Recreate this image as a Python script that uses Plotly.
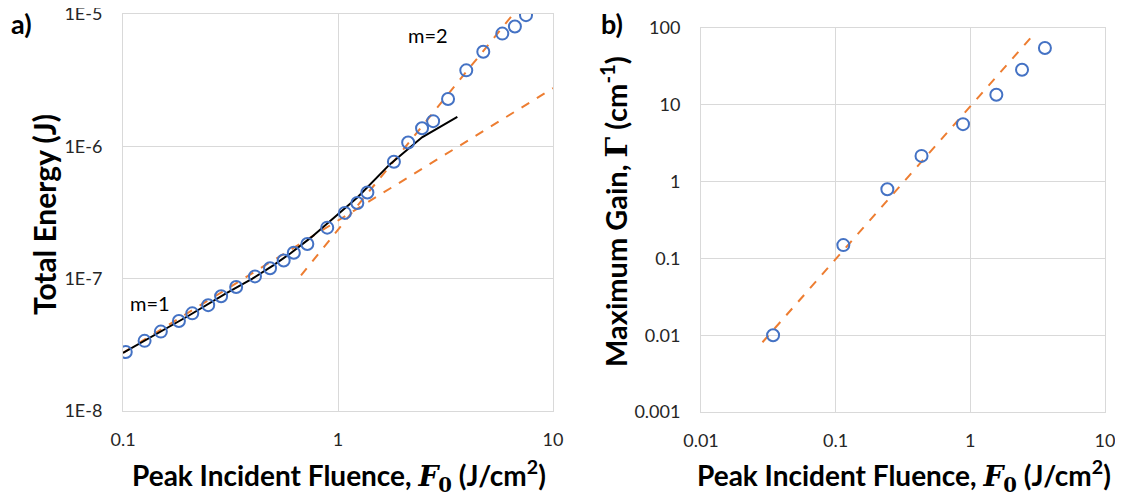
import plotly.graph_objects as go

# ---- Panel a) data ----
a_x = [0.103, 0.126, 0.15, 0.182, 0.21, 0.249, 0.286, 0.336, 0.411, 0.483, 0.559, 0.623, 0.72,
       0.891, 1.076, 1.23, 1.37, 1.82, 2.12, 2.46, 2.77, 3.25, 3.95, 4.74, 5.81, 6.65, 7.49]
a_y = [2.79e-8, 3.39e-8, 3.98e-8, 4.79e-8, 5.47e-8, 6.31e-8, 7.37e-8, 8.66e-8, 1.04e-7, 1.2e-7,
       1.37e-7, 1.57e-7, 1.83e-7, 2.43e-7, 3.14e-7, 3.73e-7, 4.48e-7, 7.64e-7, 1.07e-6, 1.37e-6,
       1.55e-6, 2.28e-6, 3.75e-6, 5.18e-6, 7.11e-6, 8.05e-6, 9.8e-6]
model_x = [0.1, 0.2, 0.3, 0.4, 0.5, 0.6, 0.75, 0.98, 1.23, 1.74, 2.46, 3.59]
model_y = [2.75e-8, 5.2e-8, 7.7e-8, 1.0e-7, 1.26e-7, 1.55e-7, 2.05e-7, 3.0e-7, 4.1e-7, 7.3e-7, 1.17e-6, 1.67e-6]
fit1_x = [0.1, 10]
fit1_y = [2.75e-8, 2.75e-6]
fit2_x = [0.673, 6.6]
fit2_y = [1.06e-7, 1.02e-5]

# ---- Panel b) data ----
b_x = [0.0343, 0.114, 0.242, 0.434, 0.882, 1.56, 2.42, 3.58]
b_y = [0.01, 0.149, 0.794, 2.16, 5.6, 13.5, 28.6, 54.8]
fitb_x = [0.0286, 2.9]
fitb_y = [0.0081, 79.4]

a_yticks = [1e-8, 1e-7, 1e-6, 1e-5]
a_yticktext = ["1E-8", "1E-7", "1E-6", "1E-5"]
a_xticks = [0.1, 1, 10]
a_xticktext = ["0.1", "1", "10"]
b_yticks = [0.001, 0.01, 0.1, 1, 10, 100]
b_yticktext = ["0.001", "0.01", "0.1", "1", "10", "100"]
b_xticks = [0.01, 0.1, 1, 10]
b_xticktext = ["0.01", "0.1", "1", "10"]

BLUE = "#4472C4"
ORANGE = "#ED7D31"
GRID = "#D9D9D9"
FONT = "Lato"
TICKCOL = "#262626"

# page has an 8px body margin; the figure is sized to fit the window
OFF = 8
W = 1123 - OFF
H = 498 - OFF


def px(x):
    return (x - OFF) / W


def py(y):
    return 1 - (y - OFF) / H


fig = go.Figure()

fig.add_trace(go.Scatter(x=fit1_x, y=fit1_y, mode="lines", xaxis="x", yaxis="y",
                         line=dict(color=ORANGE, width=2, dash="dash"), showlegend=False))
fig.add_trace(go.Scatter(x=fit2_x, y=fit2_y, mode="lines", xaxis="x", yaxis="y",
                         line=dict(color=ORANGE, width=2, dash="dash"), showlegend=False))
fig.add_trace(go.Scatter(x=model_x, y=model_y, mode="lines", xaxis="x", yaxis="y",
                         line=dict(color="black", width=2), showlegend=False))
fig.add_trace(go.Scatter(x=a_x, y=a_y, mode="markers", xaxis="x", yaxis="y",
                         marker=dict(symbol="circle-open", size=12, color=BLUE, line=dict(width=2, color=BLUE)),
                         showlegend=False))

fig.add_trace(go.Scatter(x=fitb_x, y=fitb_y, mode="lines", xaxis="x2", yaxis="y2",
                         line=dict(color=ORANGE, width=2, dash="dash"), showlegend=False))
fig.add_trace(go.Scatter(x=b_x, y=b_y, mode="markers", xaxis="x2", yaxis="y2",
                         marker=dict(symbol="circle-open", size=12, color=BLUE, line=dict(width=2, color=BLUE)),
                         showlegend=False))

axis_common = dict(type="log", showgrid=True, gridcolor=GRID, gridwidth=1,
                   showline=True, linecolor=GRID, linewidth=1, mirror=True, automargin=False,
                   zeroline=False, ticks="", ticklabeloverflow="allow",
                   tickfont=dict(family=FONT, size=18, color=TICKCOL))

fig.update_layout(
    width=W, height=H,
    margin=dict(l=0, r=0, t=0, b=0),
    paper_bgcolor="white", plot_bgcolor="white",
    font=dict(family=FONT),
    xaxis=dict(axis_common, domain=[px(123), px(553)], range=[-1, 1],
               tickvals=a_xticks, ticktext=a_xticktext, anchor="y", ticklabelstandoff=12),
    yaxis=dict(axis_common, domain=[py(411), py(14)], range=[-8, -5],
               tickvals=a_yticks, ticktext=a_yticktext, anchor="x", ticklabelstandoff=16),
    xaxis2=dict(axis_common, domain=[px(701), px(1105)], range=[-2, 1],
                tickvals=b_xticks, ticktext=b_xticktext, anchor="y2", ticklabelstandoff=12),
    yaxis2=dict(axis_common, domain=[py(412), py(28)], range=[-3, 2],
                tickvals=b_yticks, ticktext=b_yticktext, anchor="x2", ticklabelstandoff=16),
)

F0 = "<span style='font-family:\"DejaVu Serif\"'><b><i>F</i></b><sub><b>0</b></sub></span>"
xtitle = "<b>Peak Incident Fluence, " + F0 + " (J/cm<sup>2</sup>)</b>"
GAMMA = "<span style='font-family:\"DejaVu Serif\"'><b>Γ</b></span>"

ann = [
    dict(x=339, y=476, text=xtitle, font=dict(size=28, color="black")),
    dict(x=904, y=476, text=xtitle, font=dict(size=28, color="black")),
    dict(x=44, y=215, text="<b>Total Energy (J)</b>", textangle=-90, font=dict(size=30, color="black")),
    dict(x=614, y=212, text="<b>Maximum Gain, " + GAMMA + " (cm<sup>-1</sup>)</b>", textangle=-90,
         font=dict(size=29, color="black")),
    dict(x=21, y=23, text="<b>a)</b>", font=dict(size=27, color="black")),
    dict(x=612, y=23, text="<b>b)</b>", font=dict(size=27, color="black")),
    dict(x=428, y=35, text="m=2", font=dict(size=20, color="black")),
    dict(x=150, y=303, text="m=1", font=dict(size=20, color="black")),
]
for a in ann:
    a.update(xref="paper", yref="paper", showarrow=False, xanchor="center", yanchor="middle")
    a["x"] = px(a["x"])
    a["y"] = py(a["y"])
    fig.add_annotation(**a)

fig.write_html("out.html")
